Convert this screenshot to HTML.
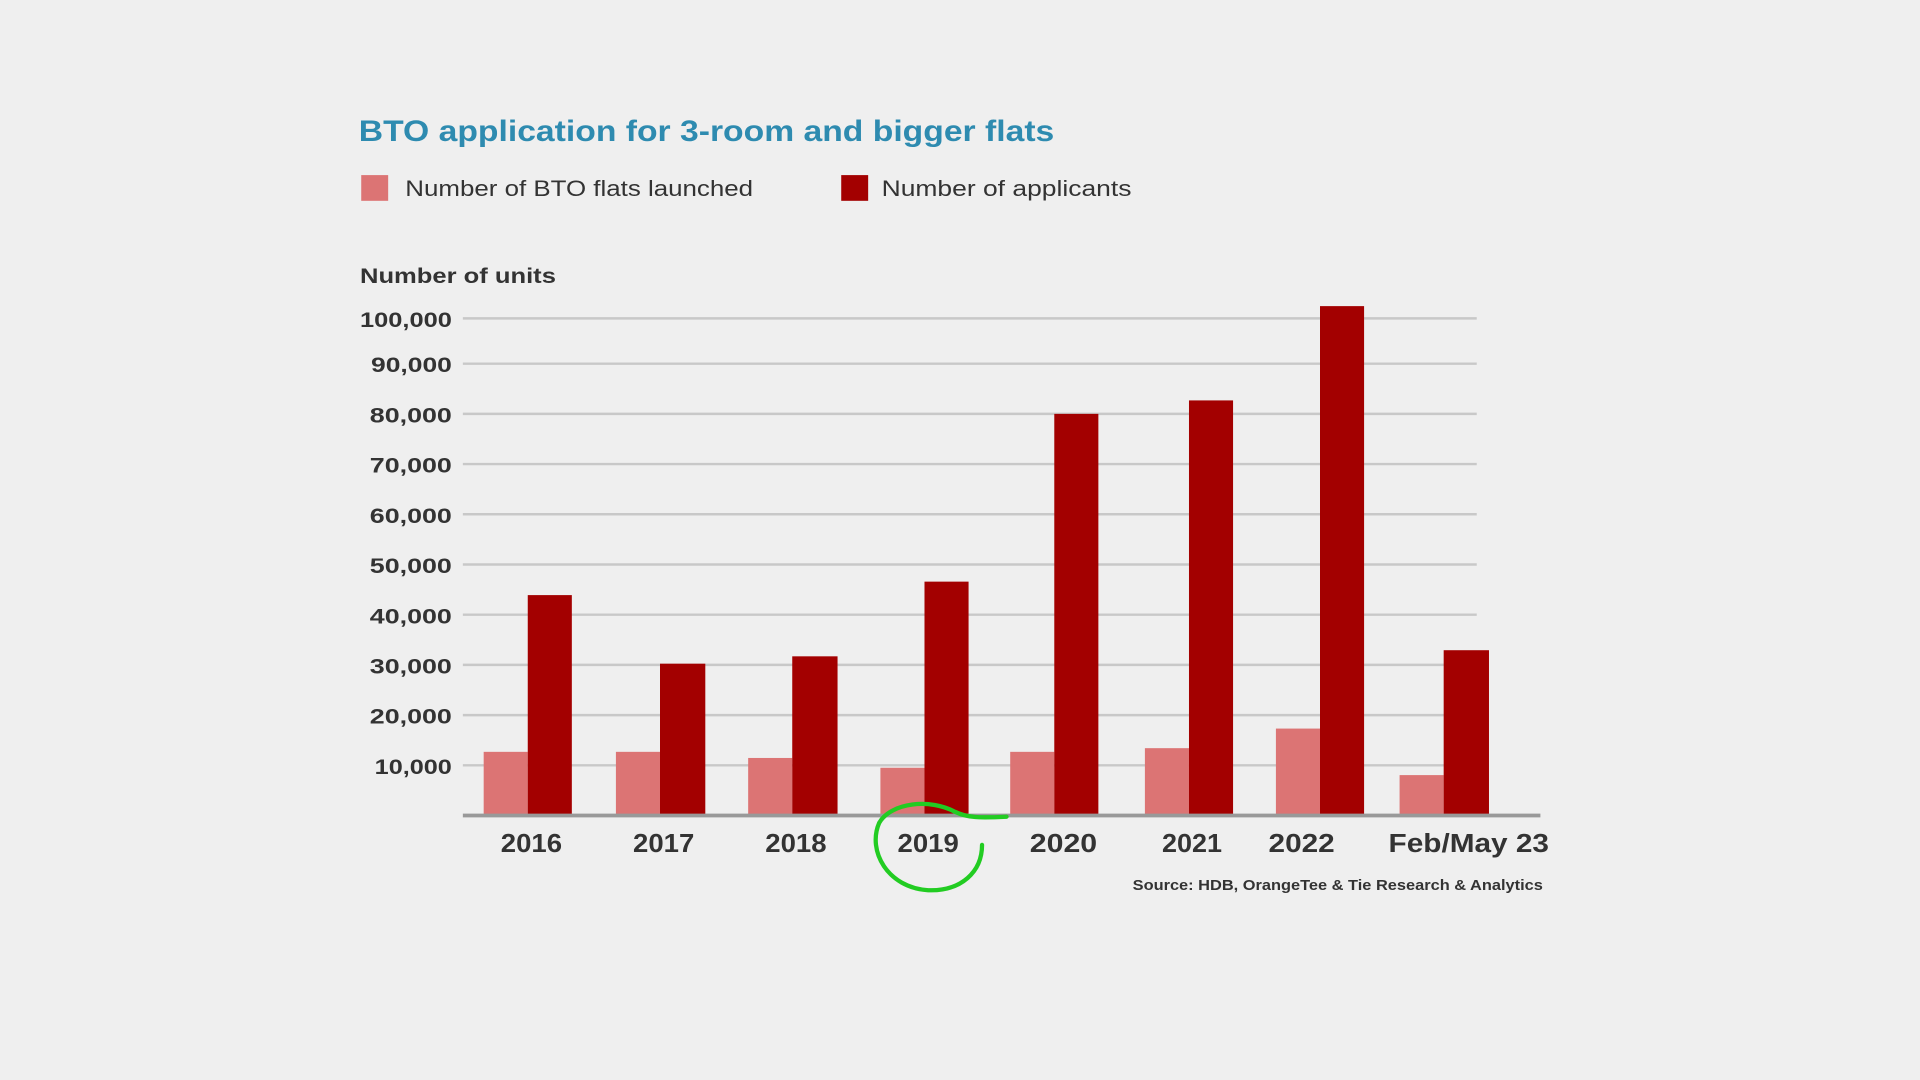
<!DOCTYPE html>
<html><head><style>
html,body{margin:0;padding:0;background:#efefef;width:1920px;height:1080px;overflow:hidden}
#w{width:1568px;height:882px;transform:scale(1.22449);transform-origin:0 0;position:relative;font-family:"Liberation Sans",sans-serif}
</style></head><body><div id="w">
<svg width="1568" height="882" xmlns="http://www.w3.org/2000/svg" font-family="Liberation Sans, sans-serif">
<rect width="1568" height="882" fill="#efefef"/>
<text x="293" y="115" font-size="24" font-weight="bold" fill="#2e8bb0" textLength="568" lengthAdjust="spacingAndGlyphs">BTO application for 3-room and bigger flats</text>
<rect x="295" y="143" width="22" height="21" fill="#dc7474"/>
<text x="331" y="160" font-size="18" fill="#333" textLength="284" lengthAdjust="spacingAndGlyphs">Number of BTO flats launched</text>
<rect x="687" y="143" width="22" height="21" fill="#a30000"/>
<text x="720" y="160" font-size="18" fill="#333" textLength="204" lengthAdjust="spacingAndGlyphs">Number of applicants</text>
<text x="294" y="231" font-size="17" font-weight="bold" fill="#333" textLength="160" lengthAdjust="spacingAndGlyphs">Number of units</text>
<g stroke="#c8c8c8" stroke-width="2">
<line x1="378" x2="1206" y1="260" y2="260"/><line x1="378" x2="1206" y1="297" y2="297"/>
<line x1="378" x2="1206" y1="338" y2="338"/><line x1="378" x2="1206" y1="379" y2="379"/>
<line x1="378" x2="1206" y1="420" y2="420"/><line x1="378" x2="1206" y1="461" y2="461"/>
<line x1="378" x2="1206" y1="502" y2="502"/><line x1="378" x2="1206" y1="543" y2="543"/>
<line x1="378" x2="1206" y1="584" y2="584"/><line x1="378" x2="1206" y1="625" y2="625"/>
</g>
<g font-size="17" font-weight="bold" fill="#333">
<text x="294" y="267" textLength="75" lengthAdjust="spacingAndGlyphs">100,000</text>
<text x="303" y="304" textLength="66" lengthAdjust="spacingAndGlyphs">90,000</text>
<text x="302" y="345" textLength="67" lengthAdjust="spacingAndGlyphs">80,000</text>
<text x="302" y="386" textLength="67" lengthAdjust="spacingAndGlyphs">70,000</text>
<text x="302" y="427" textLength="67" lengthAdjust="spacingAndGlyphs">60,000</text>
<text x="302" y="468" textLength="67" lengthAdjust="spacingAndGlyphs">50,000</text>
<text x="302" y="509" textLength="67" lengthAdjust="spacingAndGlyphs">40,000</text>
<text x="302" y="550" textLength="67" lengthAdjust="spacingAndGlyphs">30,000</text>
<text x="302" y="591" textLength="67" lengthAdjust="spacingAndGlyphs">20,000</text>
<text x="306" y="632" textLength="63" lengthAdjust="spacingAndGlyphs">10,000</text>
</g>
<g fill="#dc7474">
<rect x="395" y="614" width="36" height="52"/><rect x="503" y="614" width="36" height="52"/>
<rect x="611" y="619" width="36" height="47"/><rect x="719" y="627" width="36" height="39"/>
<rect x="825" y="614" width="36" height="52"/><rect x="935" y="611" width="36" height="55"/>
<rect x="1042" y="595" width="36" height="71"/><rect x="1143" y="633" width="36" height="33"/>
</g>
<g fill="#a30000">
<rect x="431" y="486" width="36" height="180"/><rect x="539" y="542" width="37" height="124"/>
<rect x="647" y="536" width="37" height="130"/><rect x="755" y="475" width="36" height="191"/>
<rect x="861" y="338" width="36" height="328"/><rect x="971" y="327" width="36" height="339"/>
<rect x="1078" y="250" width="36" height="416"/><rect x="1179" y="531" width="37" height="135"/>
</g>
<line x1="378" x2="1258" y1="666" y2="666" stroke="#999" stroke-width="3"/>
<g font-size="21" font-weight="bold" fill="#333">
<text x="409" y="696" textLength="50" lengthAdjust="spacingAndGlyphs">2016</text>
<text x="517" y="696" textLength="50" lengthAdjust="spacingAndGlyphs">2017</text>
<text x="625" y="696" textLength="50" lengthAdjust="spacingAndGlyphs">2018</text>
<text x="733" y="696" textLength="50" lengthAdjust="spacingAndGlyphs">2019</text>
<text x="841" y="696" textLength="55" lengthAdjust="spacingAndGlyphs">2020</text>
<text x="949" y="696" textLength="49" lengthAdjust="spacingAndGlyphs">2021</text>
<text x="1036" y="696" textLength="54" lengthAdjust="spacingAndGlyphs">2022</text>
<text x="1134" y="696" textLength="131" lengthAdjust="spacingAndGlyphs">Feb/May 23</text>
</g>
<text x="925" y="727" font-size="12" font-weight="bold" fill="#333" textLength="335" lengthAdjust="spacingAndGlyphs">Source: HDB, OrangeTee &amp; Tie Research &amp; Analytics</text>
<path d="M822,667 C800,668 790,668 780,663 C760,652 728,655 718,672 C708,695 725,725 758,727 C785,728 802,712 802,690" fill="none" stroke="#22cc22" stroke-width="3.5" stroke-linecap="round"/>
</svg>
</div></body></html>
